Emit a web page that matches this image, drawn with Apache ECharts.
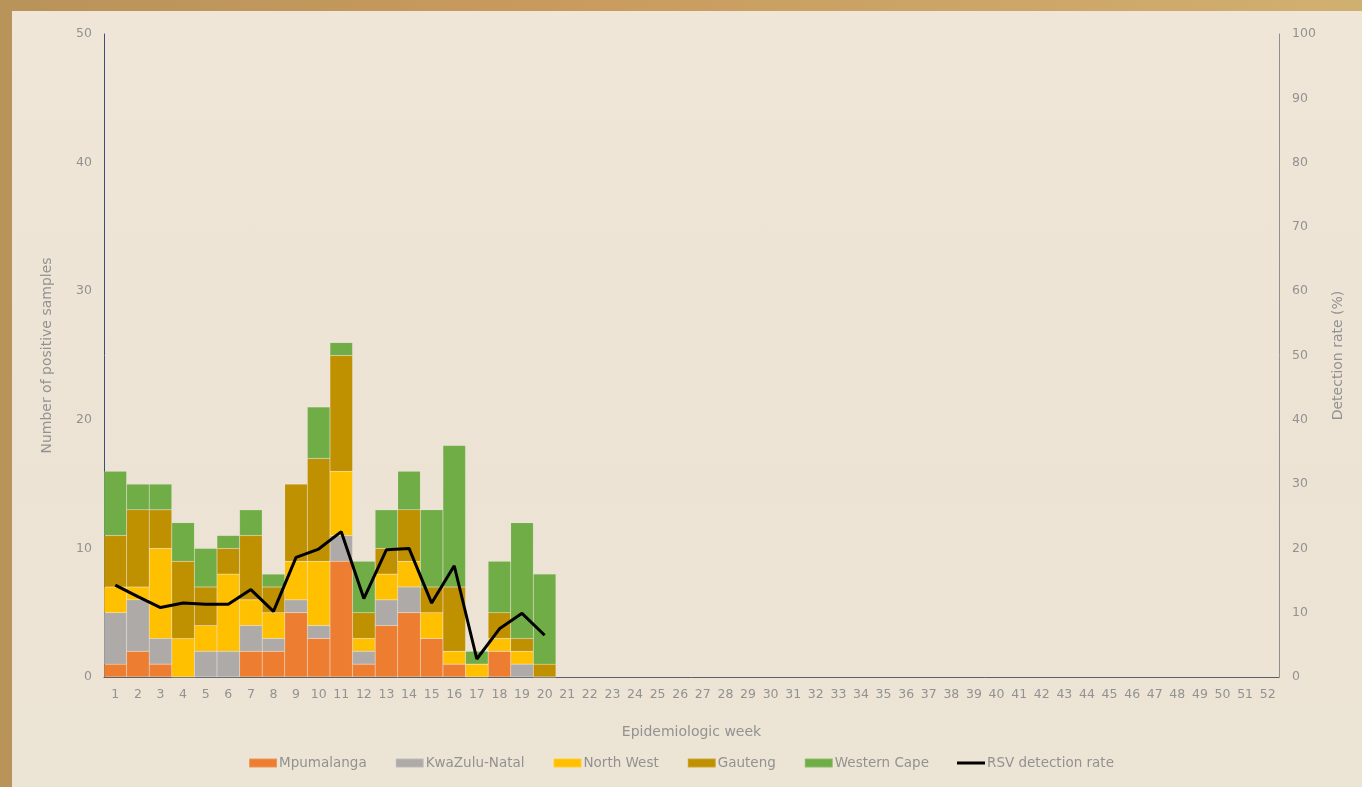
<!DOCTYPE html>
<html>
<head>
<meta charset="utf-8">
<script src="https://cdn.jsdelivr.net/npm/echarts@6/dist/echarts.min.js"></script>
<style>
html,body{margin:0;padding:0;width:1362px;height:787px;overflow:hidden;}
body{background:linear-gradient(90deg,#b8935a 0%,#c99a5e 40%,#cda86a 80%,#d0b070 100%);}
#frame{position:absolute;left:12px;top:11px;width:1350px;height:776px;background:linear-gradient(180deg,#efe6d8 0%,#ede3d5 60%,#ece4d4 100%);}
#chart{position:absolute;left:0;top:0;width:1362px;height:787px;}
</style>
</head>
<body>
<div id="frame"></div>
<div id="chart"></div>
<script>
var weeks = [];
for (var i = 1; i <= 52; i++) weeks.push(String(i));
var mpumalanga   = [1,2,1,0,0,0,2,2,5,3,9,1,4,5,3,1,0,2,0,0];
var kwazuluNatal = [4,4,2,0,2,2,2,1,1,1,2,1,2,2,0,0,0,0,1,0];
var northWest    = [2,1,7,3,2,6,2,2,3,5,5,1,2,2,2,1,1,1,1,0];
var gauteng      = [4,6,3,6,3,2,5,2,6,8,9,2,2,4,2,5,0,2,1,1];
var westernCape  = [5,2,2,3,3,1,2,1,0,4,1,4,3,3,6,11,1,4,9,7];
var rsvRate      = [14.3,12.5,10.8,11.5,11.3,11.3,13.6,10.2,18.6,19.9,22.6,12.2,19.8,20.0,11.5,17.3,2.8,7.5,9.9,6.5];
var leftTicks = [0,10,20,30,40,50];
var rightTicks = [0,10,20,30,40,50,60,70,80,90,100];

var font = '"DejaVu Sans", "Open Sans", sans-serif';
var txt = '#929292';
function bar(name, data, color){
  return {name:name,type:'bar',stack:'s',data:data,barCategoryGap:'0%',
    itemStyle:{color:color,borderColor:'rgba(255,255,255,0.18)',borderWidth:0.5},
    emphasis:{disabled:true}};
}
var chart = echarts.init(document.getElementById('chart'), null, {renderer:'canvas'});
chart.setOption({
  animation:false,
  backgroundColor:'transparent',
  textStyle:{fontFamily:font},
  grid:{left:104,right:83,top:34,bottom:110,containLabel:false},
  legend:{
    bottom:12,left:'center',itemWidth:28,itemHeight:9,itemGap:28,
    textStyle:{color:txt,fontSize:13.5,fontFamily:font,padding:[0,0,0,-3]},
    data:[
      {name:'Mpumalanga',icon:'rect'},
      {name:'KwaZulu-Natal',icon:'rect'},
      {name:'North West',icon:'rect'},
      {name:'Gauteng',icon:'rect'},
      {name:'Western Cape',icon:'rect'},
      {name:'RSV detection rate',icon:'path://M0,0 L28,0 L28,3 L0,3 Z'}
    ]
  },
  xAxis:{
    type:'category',data:weeks,
    name:'Epidemiologic week',nameLocation:'middle',nameGap:48,
    nameTextStyle:{color:txt,fontSize:14,fontFamily:font},
    axisLine:{lineStyle:{color:'#5a5f66',width:1}},
    axisTick:{show:false},
    axisLabel:{color:txt,fontSize:12.5,margin:11,interval:0,fontFamily:font}
  },
  yAxis:[{
    type:'value',min:0,max:50,interval:10,
    name:'Number of positive samples',nameLocation:'middle',nameGap:50,
    nameTextStyle:{color:txt,fontSize:14,fontFamily:font},
    axisLine:{show:true,lineStyle:{color:'#3b4f7a',width:1}},
    axisTick:{show:false},splitLine:{show:false},
    axisLabel:{color:txt,fontSize:12.5,margin:12,fontFamily:font,
      formatter:function(v){return leftTicks.indexOf(v)>=0?String(v):'';}}
  },{
    type:'value',min:0,max:100,interval:10,position:'right',
    name:'Detection rate (%)',nameLocation:'middle',nameGap:52,nameRotate:90,
    nameTextStyle:{color:txt,fontSize:14,fontFamily:font},
    axisLine:{show:true,lineStyle:{color:'#8f8f8f',width:1}},
    axisTick:{show:false},splitLine:{show:false},
    axisLabel:{color:txt,fontSize:12.5,margin:13,fontFamily:font,
      formatter:function(v){return rightTicks.indexOf(v)>=0?String(v):'';}}
  }],
  series:[
    bar('Mpumalanga',mpumalanga,'#ed7d31'),
    bar('KwaZulu-Natal',kwazuluNatal,'#aeaaa7'),
    bar('North West',northWest,'#ffc000'),
    bar('Gauteng',gauteng,'#bf9000'),
    bar('Western Cape',westernCape,'#70ad47'),
    {name:'RSV detection rate',type:'line',yAxisIndex:1,data:rsvRate,
     showSymbol:false,symbol:'none',lineStyle:{color:'#000',width:3},itemStyle:{color:'#000'},
     emphasis:{disabled:true}}
  ]
});
</script>
</body>
</html>
